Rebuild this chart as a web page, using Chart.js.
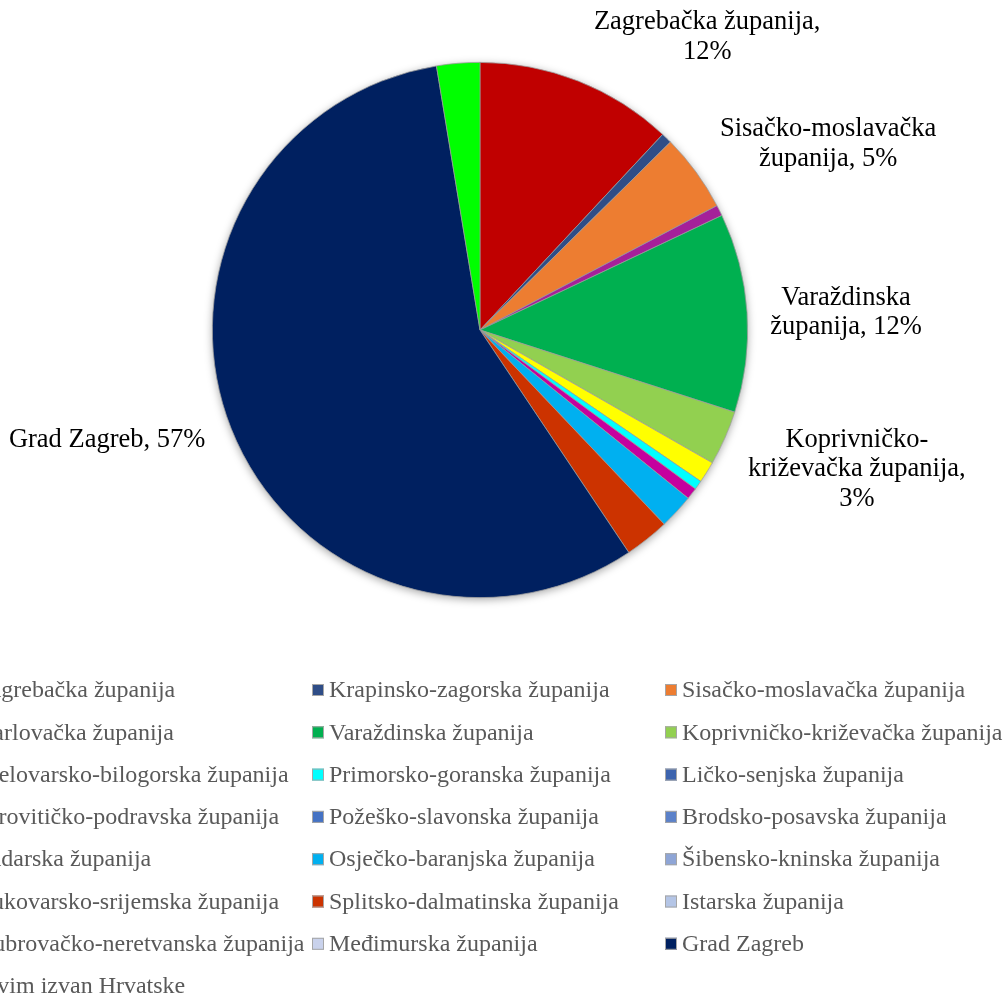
<!DOCTYPE html>
<html>
<head>
<meta charset="utf-8">
<script src="https://cdn.jsdelivr.net/npm/chart.js@4/dist/chart.umd.min.js"></script>
<style>
  html, body { margin: 0; padding: 0; background: #ffffff; overflow: hidden; }
  #wrap { position: absolute; left: 0; top: 0; width: 1003px; height: 996px; }
</style>
</head>
<body>
<div id="wrap"><canvas id="c" width="1003" height="996"></canvas></div>
<script>
// ---- data ----
const categories = [
  "Zagrebačka županija", "Krapinsko-zagorska županija", "Sisačko-moslavačka županija",
  "Karlovačka županija", "Varaždinska županija", "Koprivničko-križevačka županija",
  "Bjelovarsko-bilogorska županija", "Primorsko-goranska županija", "Ličko-senjska županija",
  "Virovitičko-podravska županija", "Požeško-slavonska županija", "Brodsko-posavska županija",
  "Zadarska županija", "Osječko-baranjska županija", "Šibensko-kninska županija",
  "Vukovarsko-srijemska županija", "Splitsko-dalmatinska županija", "Istarska županija",
  "Dubrovačko-neretvanska županija", "Međimurska županija", "Grad Zagreb",
  "Živim izvan Hrvatske"
];
const shares = [
  11.95, 0.65, 4.7,
  0.65, 12.0, 3.3,
  1.3, 0.55, 0,
  0.7, 0, 0,
  0, 2.1, 0,
  0, 2.7, 0,
  0, 0, 56.75,
  2.6
];
const sliceColors = [
  "#C00000", "#2F4D87", "#ED7D31",
  "#A5209A", "#00B050", "#92D050",
  "#FFFF00", "#00FFFF", "#3D64AE",
  "#C5009E", "#4472C4", "#5B81C9",
  "#6E8FCF", "#00B0F0", "#8EA5D6",
  "#A3B6DE", "#CC3300", "#B4C5E6",
  "#C0CCE8", "#C9D2EC", "#002060",
  "#00FF00"
];
// data labels shown on the chart (index -> text lines)
const labelLines = {
  0: ["Zagrebačka županija,", "12%"],
  2: ["Sisačko-moslavačka", "županija, 5%"],
  4: ["Varaždinska", "županija, 12%"],
  5: ["Koprivničko-", "križevačka županija,", "3%"],
  20: ["Grad Zagreb, 57%"]
};
// ---- layout / style ----
const labelOffsets = { 0: [129, -44], 2: [132, -28], 4: [99, 0], 5: [132, 31], 20: [-124, 12] };
const serif = "'Liberation Serif', 'Times New Roman', serif";

const shadowPlugin = {
  id: 'pieShadow',
  beforeDatasetsDraw(chart) {
    const arc = chart.getDatasetMeta(0).data[0];
    if (!arc) return;
    const ctx = chart.ctx;
    ctx.save();
    ctx.shadowColor = 'rgba(0,0,0,0.35)';
    ctx.shadowBlur = 9;
    ctx.shadowOffsetX = 0;
    ctx.shadowOffsetY = 2;
    ctx.fillStyle = '#ffffff';
    ctx.beginPath();
    ctx.arc(arc.x, arc.y, arc.outerRadius, 0, Math.PI * 2);
    ctx.fill();
    ctx.restore();
  }
};

const labelPlugin = {
  id: 'sliceLabels',
  afterDatasetsDraw(chart) {
    const ctx = chart.ctx;
    const meta = chart.getDatasetMeta(0);
    ctx.save();
    ctx.font = "26.5px " + serif;
    ctx.fillStyle = '#000000';
    ctx.textAlign = 'center';
    ctx.textBaseline = 'middle';
    const lh = 29.5;
    Object.keys(labelLines).forEach(k => {
      const i = +k;
      const a = meta.data[i];
      const mid = (a.startAngle + a.endAngle) / 2;
      const px = a.x + Math.cos(mid) * a.outerRadius + labelOffsets[i][0];
      const py = a.y + Math.sin(mid) * a.outerRadius + labelOffsets[i][1];
      const lines = labelLines[i];
      lines.forEach((t, j) => {
        ctx.fillText(t, px, py + (j - (lines.length - 1) / 2) * lh);
      });
    });
    ctx.restore();
  }
};

const legendPlugin = {
  id: 'gridLegend',
  afterDraw(chart) {
    const ctx = chart.ctx;
    const cols = 3, colW = 353, x0 = -41, y0 = 690, rowH = 42.3, box = 12;
    ctx.save();
    ctx.font = "24px " + serif;
    ctx.textBaseline = 'middle';
    ctx.textAlign = 'left';
    categories.forEach((name, i) => {
      const col = i % cols, row = Math.floor(i / cols);
      const x = x0 + col * colW, y = y0 + row * rowH;
      ctx.fillStyle = sliceColors[i];
      ctx.fillRect(x, y - box / 2, box, box);
      ctx.strokeStyle = '#A6A6A6';
      ctx.lineWidth = 1;
      ctx.strokeRect(x + 0.5, y - box / 2 + 0.5, box - 1, box - 1);
      ctx.fillStyle = '#595959';
      ctx.fillText(name, x + 17, y + 1);
    });
    ctx.restore();
  }
};

new Chart(document.getElementById('c'), {
  type: 'pie',
  data: {
    labels: categories,
    datasets: [{
      data: shares,
      backgroundColor: sliceColors,
      borderColor: '#9A9A9A',
      borderWidth: 0.75,
      hoverOffset: 0,
      offset: 0
    }]
  },
  options: {
    responsive: false,
    animation: false,
    layout: { padding: { left: 212, right: 255, top: 62, bottom: 398 } },
    plugins: {
      legend: { display: false },
      tooltip: { enabled: false }
    }
  },
  plugins: [shadowPlugin, labelPlugin, legendPlugin]
});
</script>
</body>
</html>
